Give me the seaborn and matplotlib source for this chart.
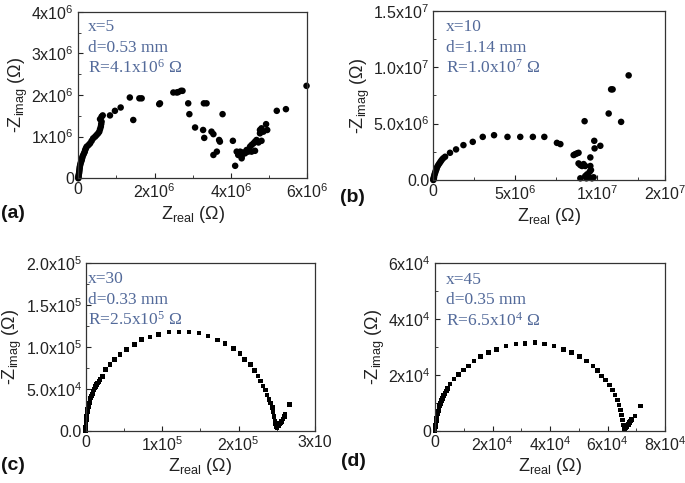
import numpy as np
import pandas as pd
import matplotlib
matplotlib.use("Agg")
import matplotlib.pyplot as plt
import seaborn as sns
from matplotlib.ticker import MultipleLocator, FixedLocator

sns.set_theme(style="ticks")
plt.rcParams["font.family"] = ["Liberation Sans", "DejaVu Sans"]
plt.rcParams["mathtext.default"] = "regular"

# ---------------- data ----------------
# panel (a): x=5  (units of 1e6 Ohm)
a_zreal = [0.0, 0.003, 0.006, 0.01, 0.02, 0.025, 0.03, 0.035, 0.04, 0.05, 0.06, 0.075, 0.09, 0.10,
           0.11, 0.13, 0.15, 0.17, 0.18, 0.20, 0.22, 0.27, 0.31, 0.35, 0.39, 0.44, 0.48, 0.52, 0.55,
           0.57, 0.59, 0.60, 0.61, 0.57, 0.61, 0.64, 0.83, 0.96, 1.11, 1.35, 1.44, 1.60, 1.66, 2.12,
           2.14, 2.49, 2.58, 2.62, 2.69, 2.73, 2.88, 2.91, 3.06, 3.27, 3.29, 3.36, 3.30, 3.49, 3.54,
           3.54, 3.63, 3.69, 3.71, 3.78, 4.05, 4.11, 4.15, 4.19, 4.24, 4.28, 4.28, 4.32, 4.37, 4.41,
           4.45, 4.50, 4.54, 4.54, 4.59, 4.63, 4.63, 4.67, 4.72, 4.80, 4.76, 4.76, 4.80, 4.85, 4.92,
           4.95, 5.20, 5.44, 5.98]
a_zimag = [0.0, 0.02, 0.05, 0.08, 0.12, 0.16, 0.20, 0.24, 0.28, 0.32, 0.36, 0.40, 0.44, 0.48,
           0.52, 0.56, 0.60, 0.64, 0.68, 0.72, 0.76, 0.80, 0.84, 0.90, 0.96, 1.00, 1.04, 1.08, 1.12,
           1.18, 1.24, 1.30, 1.36, 1.42, 1.48, 1.51, 1.51, 1.62, 1.70, 1.94, 1.40, 1.92, 1.92, 1.78,
           1.80, 2.06, 2.06, 2.07, 2.10, 2.10, 1.80, 1.54, 1.22, 1.16, 1.80, 1.80, 0.97, 1.12, 1.06,
           0.56, 0.64, 0.92, 0.88, 1.54, 0.90, 0.30, 0.64, 0.56, 0.64, 0.52, 0.48, 0.62, 0.60, 0.68,
           0.64, 0.76, 0.80, 0.64, 0.84, 0.88, 0.66, 0.92, 0.86, 0.90, 1.16, 1.08, 1.20, 1.12, 1.30,
           1.16, 1.62, 1.66, 2.22]

# panel (b): x=10  (units of 1e6 Ohm)
b_zreal = [0.0, 0.01, 0.02, 0.04, 0.04, 0.07, 0.10, 0.13, 0.17, 0.20, 0.24, 0.30, 0.37, 0.44,
           0.51, 0.60, 0.72, 1.02, 1.39, 1.84, 2.41, 3.02, 3.71, 4.53, 5.31, 6.08, 6.78, 7.55, 7.76,
           8.57, 8.67, 8.78, 8.87, 9.59, 8.87, 8.98, 9.08, 9.18, 9.28, 9.59, 9.63, 9.55, 8.98, 9.28,
           9.39, 9.49, 9.69, 9.79, 9.35, 9.83, 10.2, 9.85, 9.24, 10.71, 11.47, 10.86, 10.95, 11.93]
b_zimag = [0.0, 0.05, 0.12, 0.20, 0.29, 0.45, 0.59, 0.73, 0.88, 1.02, 1.17, 1.32, 1.47, 1.62,
           1.77, 1.92, 2.06, 2.41, 2.71, 3.09, 3.38, 3.82, 3.97, 3.82, 3.82, 3.82, 3.82, 3.29, 3.18,
           2.21, 2.29, 2.36, 2.41, 2.00, 1.47, 1.32, 1.24, 1.41, 1.24, 1.24, 0.88, 0.73, 0.15, 0.35,
           0.50, 0.29, 0.15, 0.24, 0.15, 3.47, 3.03, 2.80, 5.21, 5.89, 5.15, 8.03, 8.03, 9.27]

# panel (c): x=30  (units of 1e5 Ohm)
c_zreal = [0.0, 0.0, 0.002, 0.004, 0.008, 0.013, 0.017, 0.02, 0.027, 0.034, 0.04, 0.047, 0.056,
           0.065, 0.075, 0.086, 0.097, 0.108, 0.12, 0.13, 0.143, 0.157, 0.172, 0.187, 0.217, 0.26,
           0.318, 0.374, 0.448, 0.536, 0.635, 0.732, 0.84, 0.949, 1.089, 1.22, 1.354, 1.48, 1.60,
           1.725, 1.82, 1.93, 2.017, 2.08, 2.157, 2.21, 2.256, 2.29, 2.32, 2.353, 2.374, 2.40, 2.42,
           2.44, 2.45, 2.466, 2.475, 2.483, 2.49, 2.497, 2.505, 2.52, 2.53, 2.54, 2.55, 2.56, 2.58,
           2.60, 2.61, 2.67]
c_zimag = [0.0, 0.04, 0.07, 0.10, 0.13, 0.17, 0.20, 0.23, 0.26, 0.29, 0.31, 0.33, 0.36,
           0.39, 0.415, 0.44, 0.465, 0.49, 0.51, 0.53, 0.55, 0.57, 0.59, 0.61, 0.65, 0.73,
           0.79, 0.85, 0.91, 0.97, 1.03, 1.09, 1.12, 1.15, 1.18, 1.18, 1.18, 1.165, 1.13,
           1.085, 1.04, 0.98, 0.92, 0.85, 0.79, 0.72, 0.655, 0.595, 0.535, 0.487, 0.427, 0.375, 0.33,
           0.28, 0.227, 0.167, 0.108, 0.085, 0.068, 0.048, 0.035, 0.056, 0.065, 0.08, 0.09, 0.108, 0.14,
           0.167, 0.20, 0.31]

# panel (d): x=45  (units of 1e4 Ohm)
d_zreal = [0.0, 0.0, 0.01, 0.02, 0.035, 0.045, 0.058, 0.075, 0.093, 0.115, 0.14, 0.165, 0.197,
           0.23, 0.267, 0.305, 0.348, 0.39, 0.43, 0.52, 0.66, 0.81, 0.985, 1.16, 1.357, 1.59,
           1.855, 2.145, 2.47, 2.82, 3.13, 3.48, 3.80, 4.14, 4.46, 4.75, 5.02, 5.28, 5.49, 5.66,
           5.80, 5.94, 6.06, 6.18, 6.26, 6.34, 6.40, 6.46, 6.49, 6.53, 6.55, 6.57, 6.585, 6.62,
           6.67, 6.72, 6.76, 6.80, 6.84, 6.96, 7.155]
d_zimag = [0.0, 0.08, 0.14, 0.20, 0.26, 0.35, 0.44, 0.53, 0.62, 0.71, 0.80, 0.89, 0.98,
           1.07, 1.16, 1.25, 1.33, 1.42, 1.51, 1.67, 1.85, 2.01, 2.17, 2.31, 2.49, 2.64,
           2.79, 2.91, 3.02, 3.10, 3.12, 3.14, 3.10, 3.02, 2.91, 2.79, 2.64, 2.49, 2.31, 2.14,
           1.96, 1.81, 1.63, 1.45, 1.275, 1.10, 0.92, 0.74, 0.56, 0.38, 0.20, 0.12, 0.05, 0.09,
           0.14, 0.22, 0.29, 0.35, 0.41, 0.53, 0.88]

units = {"a": 1e6, "b": 1e6, "c": 1e5, "d": 1e4}
labels_text = {
    "a": ["x=5", "d=0.53 mm", r"R=4.1x10$^{6}$ Ω"],
    "b": ["x=10", "d=1.14 mm", r"R=1.0x10$^{7}$ Ω"],
    "c": ["x=30", "d=0.33 mm", r"R=2.5x10$^{5}$ Ω"],
    "d": ["x=45", "d=0.35 mm", r"R=6.5x10$^{4}$ Ω"],
}
a_xticks = [0, 2e6, 4e6, 6e6]
a_xticklabels = ["0", r"2x10$^{6}$", r"4x10$^{6}$", r"6x10$^{6}$"]
a_yticks = [0, 1e6, 2e6, 3e6, 4e6]
a_yticklabels = ["0", r"1x10$^{6}$", r"2x10$^{6}$", r"3x10$^{6}$", r"4x10$^{6}$"]
b_xticks = [0, 5e6, 1e7, 1.415e7]
b_xticklabels = ["0", r"5x10$^{6}$", r"1x10$^{7}$", r"2x10$^{7}$"]
b_yticks = [0, 5e6, 1e7, 1.5e7]
b_yticklabels = ["0.0", r"5.0x10$^{6}$", r"1.0x10$^{7}$", r"1.5x10$^{7}$"]
c_xticks = [0, 1e5, 2e5, 3e5]
c_xticklabels = ["0", r"1x10$^{5}$", r"2x10$^{5}$", "3x10"]
c_yticks = [0, 5e4, 1e5, 1.5e5, 2e5]
c_yticklabels = ["0.0", r"5.0x10$^{4}$", r"1.0x10$^{5}$", r"1.5x10$^{5}$", r"2.0x10$^{5}$"]
d_xticks = [0, 2e4, 4e4, 6e4, 8e4]
d_xticklabels = ["0", r"2x10$^{4}$", r"4x10$^{4}$", r"6x10$^{4}$", r"8x10$^{4}$"]
d_yticks = [0, 2e4, 4e4, 6e4]
d_yticklabels = ["0", r"2x10$^{4}$", r"4x10$^{4}$", r"6x10$^{4}$"]

W, H = 685, 483
fig = plt.figure(figsize=(W / 100, H / 100), dpi=100)
fig.patch.set_facecolor("white")

def px_axes(x0, x1, ytop, ybot):
    return fig.add_axes([x0 / W, 1 - ybot / H, (x1 - x0) / W, (ybot - ytop) / H])

panels = {
    "a": dict(box=(78.3, 307.3, 11.7, 178.3), x=a_zreal, y=a_zimag, marker="o", s=22,
              xlim=(0, 6e6), ylim=(0, 4e6), xt=a_xticks, xtl=a_xticklabels,
              yt=a_yticks, ytl=a_yticklabels, xminor=1e6, yminor=5e5,
              text=(88, 27), tag=(1, 214)),
    "b": dict(box=(433.3, 665, 10.7, 180), x=b_zreal, y=b_zimag, marker="o", s=22,
              xlim=(0, 1.415e7), ylim=(0, 1.5e7), xt=b_xticks, xtl=b_xticklabels,
              yt=b_yticks, ytl=b_yticklabels, xminor=2.5e6, yminor=2.5e6,
              text=(446, 27), tag=(340, 198)),
    "c": dict(box=(85.7, 315, 263.3, 430.7), x=c_zreal, y=c_zimag, marker="s", s=11,
              xlim=(0, 3e5), ylim=(0, 2e5), xt=c_xticks, xtl=c_xticklabels,
              yt=c_yticks, ytl=c_yticklabels, xminor=5e4, yminor=2.5e4,
              text=(88, 279), tag=(1, 465)),
    "d": dict(box=(435, 665, 262.7, 430.7), x=d_zreal, y=d_zimag, marker="s", s=11,
              xlim=(0, 8e4), ylim=(0, 6e4), xt=d_xticks, xtl=d_xticklabels,
              yt=d_yticks, ytl=d_yticklabels, xminor=1e4, yminor=1e4,
              text=(446, 280), tag=(341, 462)),
}

text_color = "#536a9a"
for key, p in panels.items():
    ax = px_axes(*p["box"])
    u = units[key]
    df = pd.DataFrame({"zreal": np.array(p["x"]) * u, "zimag": np.array(p["y"]) * u})
    sns.scatterplot(data=df, x="zreal", y="zimag", ax=ax, color="black", marker=p["marker"],
                    s=p["s"], linewidth=0, edgecolor="none", clip_on=False, legend=False)
    ax.set_xlim(*p["xlim"])
    ax.set_ylim(*p["ylim"])
    ax.xaxis.set_major_locator(FixedLocator(p["xt"]))
    ax.set_xticklabels(p["xtl"])
    ax.yaxis.set_major_locator(FixedLocator(p["yt"]))
    ax.set_yticklabels(p["ytl"])
    ax.xaxis.set_minor_locator(MultipleLocator(p["xminor"]))
    ax.yaxis.set_minor_locator(MultipleLocator(p["yminor"]))
    ax.tick_params(which="major", direction="in", length=3.5, width=0.8, labelsize=11.5,
                   colors="#222222", pad=3)
    ax.tick_params(which="minor", direction="in", length=2, width=0.6, colors="#222222")
    ax.tick_params(top=False, right=False, which="both")
    for sp in ax.spines.values():
        sp.set_visible(True)
        sp.set_linewidth(0.9)
        sp.set_color("#333333")
    ax.set_xlabel(r"Z$_{real}$ (Ω)", fontsize=13, labelpad=2, color="#222222")
    ax.set_ylabel(r"-Z$_{imag}$ (Ω)", fontsize=13, labelpad=1, color="#222222")
    ax.set_facecolor("white")
    tx, ty = p["text"]
    for i, line in enumerate(labels_text[key]):
        fig.text(tx / W, 1 - (ty + 20.5 * i) / H, line, ha="left", va="center",
                 fontsize=12.5, color=text_color, family=["Liberation Serif", "DejaVu Serif"])
    gx, gy = p["tag"]
    fig.text(gx / W, 1 - gy / H, f"({key})", ha="left", va="center", fontsize=14,
             fontweight="bold", color="#111111")

fig.savefig("out.png", dpi=100, facecolor="white")
